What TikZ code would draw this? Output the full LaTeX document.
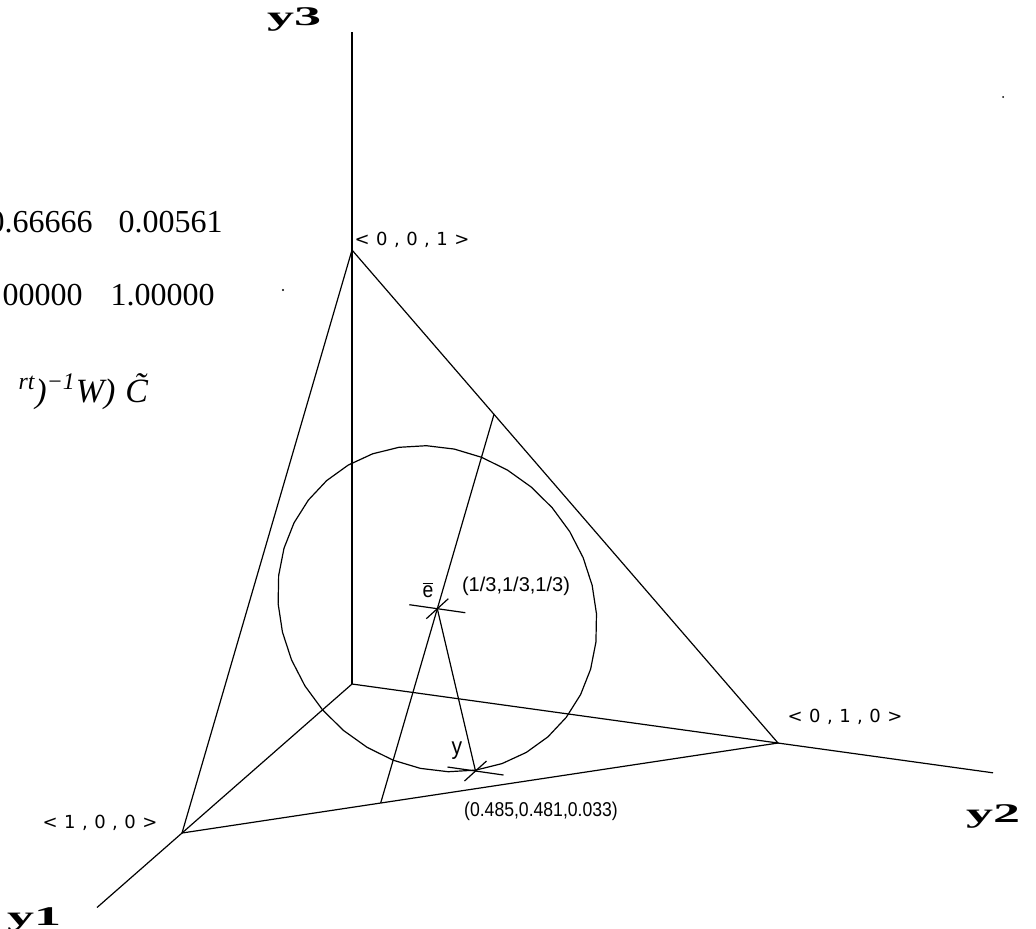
\documentclass[tikz,border=0pt]{standalone}
\usepackage{fontspec}
\setmainfont{Liberation Serif}
\newfontfamily\vtxfont[LetterSpace=36]{DejaVu Sans}
\newfontfamily\narrowfont[FakeStretch=0.88]{Liberation Sans}
\newfontfamily\axisfont[FakeStretch=2.0]{Liberation Serif}
\usetikzlibrary{calc}

% cross mark through a point of the simplex
\newcommand{\crossat}[1]{%
    \draw (#1) ++(-28,-4) -- ++(56,8);
    \draw (#1) ++(-11,10) -- ++(22,-20);}

\begin{document}
\begin{tikzpicture}[
    x=0.5pt, y=-0.5pt,
    line width=0.6pt,
    every node/.style={inner sep=0pt},
    axislabel/.style={font=\axisfont\bfseries\fontsize{13.5}{13.5}\selectfont},
    vertexlabel/.style={font=\vtxfont\fontsize{9}{9}\selectfont},
    pointlabel/.style={font=\narrowfont\fontsize{10}{10}\selectfont},
    numbers/.style={font=\fontsize{16}{16}\selectfont, anchor=base west}
]
\useasboundingbox (0,0) rectangle (1036,928);
\clip (0,0) rectangle (1036,928);

% ============ AXES AND VERTICES ============
\coordinate (O) at (352,684);
\coordinate (v1) at (182,833);
\coordinate (v2) at (778,743);
\coordinate (v3) at (352,250);
\coordinate (a1) at (97,907.5);
\coordinate (a2) at (993,772.8);
\coordinate (a3) at (352,32);

\draw (O) -- (a1);
\draw (O) -- (a2);
\draw (O) -- (a3);
\draw (v1) -- (v2) -- (v3) -- cycle;

\node[axislabel, anchor=base] (y1lab) at (34,925) {y1};
\node[axislabel, anchor=base] (y2lab) at (993,822) {y2};
\node[axislabel, anchor=base] (y3lab) at (294,25) {y3};

\node[vertexlabel] (lab001) at (412,240) {<0,0,1>};
\node[vertexlabel] (lab010) at (845,717) {<0,1,0>};
\node[vertexlabel] (lab100) at (100,823) {<1,0,0>};

% ============ CENTRE, POINT AND CIRCLE ============
\coordinate (ebar) at (437.3,608.7);
\coordinate (ypt) at (475.5,771);
\coordinate (p) at (380.7,802.9);
\coordinate (q) at (494,414.3);

\draw plot[domain=0:360, samples=37]
    ({437.3 - 154.85*cos(\x) + 38.40*sin(\x)}, {608.7 + 23.38*cos(\x) + 161.40*sin(\x)}) -- cycle;

\draw (p) -- (q);
\draw (ebar) -- (ypt);
\crossat{ebar}
\crossat{ypt}

\node[pointlabel, font=\narrowfont\fontsize{11}{11}\selectfont] (elab) at (428,590) {$\overline{\mbox{e}}$};
\node[pointlabel, font=\fontspec{Liberation Sans}\fontsize{10}{10}\selectfont] (ecoord) at (516,586) {(1/3,1/3,1/3)};
\node[pointlabel, font=\narrowfont\fontsize{12}{12}\selectfont] (ylab) at (457,751) {y};
\node[pointlabel] (ycoord) at (541,811) {(0.485,0.481,0.033)};

% ============ TEXT AT THE LEFT ============
\node[numbers] (row1) at (-12,232) {0.66666\hspace{13pt}0.00561};
\node[numbers] (row2) at (2,305) {00000\hspace{14pt}1.00000};
\node[numbers, font=\itshape\fontsize{17}{17}\selectfont] (formula) at (18,402)
    {\textsuperscript{rt})\textsuperscript{−1}W)\hspace{5pt}C̃};

\fill (283,290) circle (1.2);
\fill (1003,97) circle (1);

\end{tikzpicture}
\end{document}
